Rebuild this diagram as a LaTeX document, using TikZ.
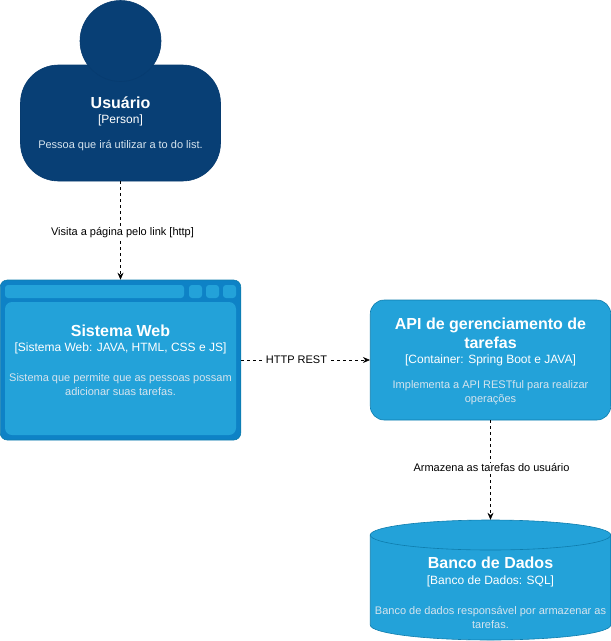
\documentclass[tikz,border=0pt]{standalone}
\usepackage{fontspec}
\setmainfont{Liberation Sans}
\usetikzlibrary{arrows.meta}
\definecolor{personblue}{HTML}{083F75}
\definecolor{personline}{HTML}{073B6F}
\definecolor{boxblue}{HTML}{23A2D9}
\definecolor{boxline}{HTML}{0E7DAD}
\definecolor{frameblue}{HTML}{0E82C6}
\definecolor{desctext}{HTML}{D6E4EE}
\tikzset{
  personpart/.style={draw=personline, fill=personblue, line width=0.6pt, inner sep=0pt},
  boxpart/.style={fill=boxblue, inner sep=0pt, rounded corners=3pt},
  boxtitle/.style={font=\fontsize{16}{19}\selectfont\bfseries, text=white, align=center, inner sep=0pt},
  boxtech/.style={font=\fontsize{12}{14}\selectfont, text=white, align=center, inner sep=0pt},
  boxdesc/.style={font=\fontsize{11}{14}\selectfont, text=desctext, align=center, inner sep=0pt},
  linktext/.style={font=\fontsize{11}{13}\selectfont, fill=white, inner sep=0.5pt},
  linkarrow/.style={draw=black, dashed, line width=0.6pt, -{Stealth[length=7pt,width=6pt]}},
  dbpart/.style={draw=boxline, fill=boxblue, line width=0.6pt}
}
\begin{document}
\begin{tikzpicture}[x=1pt, y=-1pt]
  \useasboundingbox (0,0) rectangle (611,641);
  % person
  \node[personpart, rounded corners=38pt, minimum width=200pt, minimum height=116pt] (userbody) at (120.5,123) {};
  \node[personpart, circle, minimum size=81pt] (userhead) at (120.5,41) {};
  \node[boxtitle] (usertitle) at (120.5,102.5) {Usuário};
  \node[boxtech] (usertech) at (120.5,120) {[Person]};
  \node[boxdesc] (userdesc) at (120.5,146) {Pessoa que irá utilizar a to do list.};
  % web window
  \node[draw=boxline, fill=frameblue, line width=0.6pt, rounded corners=7pt, inner sep=0pt, minimum width=240.5pt, minimum height=160pt] (web) at (120.5,360) {};
  \node[boxpart, minimum width=179pt, minimum height=13pt] (webbar) at (94.5,291.5) {};
  \node[boxpart, minimum width=13pt, minimum height=13pt] (webbtna) at (195.5,291.5) {};
  \node[boxpart, minimum width=13pt, minimum height=13pt] (webbtnb) at (212.5,291.5) {};
  \node[boxpart, minimum width=13pt, minimum height=13pt] (webbtnc) at (229.5,291.5) {};
  \node[boxpart, rounded corners=7pt, minimum width=231pt, minimum height=133pt] (webpane) at (120.5,368.5) {};
  \node[boxtitle] (webtitle) at (120.5,330.5) {Sistema Web};
  \node[boxtech] (webtech) at (120.5,348) {[Sistema Web: JAVA, HTML, CSS e JS]};
  \node[boxdesc] (webdesc) at (120.5,384.5) {Sistema que permite que as pessoas possam\\adicionar suas tarefas.};
  % api
  \node[draw=boxline, fill=boxblue, line width=0.6pt, rounded corners=14pt, inner sep=0pt, minimum width=240.5pt, minimum height=120pt] (api) at (490.5,360) {};
  \node[boxtitle] (apititle) at (490.5,333.5) {API de gerenciamento de\\tarefas};
  \node[boxtech] (apitech) at (490.5,360) {[Container: Spring Boot e JAVA]};
  \node[boxdesc] (apidesc) at (490.5,393) {Implementa a API RESTful para realizar\\operações};
  % database
  \node[inner sep=0pt, minimum width=240.5pt, minimum height=120pt] (db) at (490.5,580) {};
  \draw[dbpart] (370.25,535) -- (370.25,625) arc[start angle=180, end angle=0, x radius=120.25, y radius=15] -- (610.75,535) -- cycle;
  \draw[dbpart] (490.5,535) ellipse [x radius=120.25, y radius=15];
  \node[boxtitle] (dbtitle) at (490.5,563) {Banco de Dados};
  \node[boxtech] (dbtech) at (490.5,581) {[Banco de Dados: SQL]};
  \node[boxdesc] (dbdesc) at (490.5,617.5) {Banco de dados responsável por armazenar as\\tarefas.};
  % links
  \draw[linkarrow] (userbody.south) -- node[linktext, xshift=2pt, yshift=-2.5pt] (visitlabel) {Visita a página pelo link [http]} (web.north);
  \draw[linkarrow] (web.east) -- node[linktext, pos=0.43] (restlabel) {HTTP REST} (api.west);
  \draw[linkarrow] (api.south) -- node[linktext, pos=0.47, xshift=1pt, yshift=-0.5pt] (storelabel) {Armazena as tarefas do usuário} (db.north);
\end{tikzpicture}
\end{document}
